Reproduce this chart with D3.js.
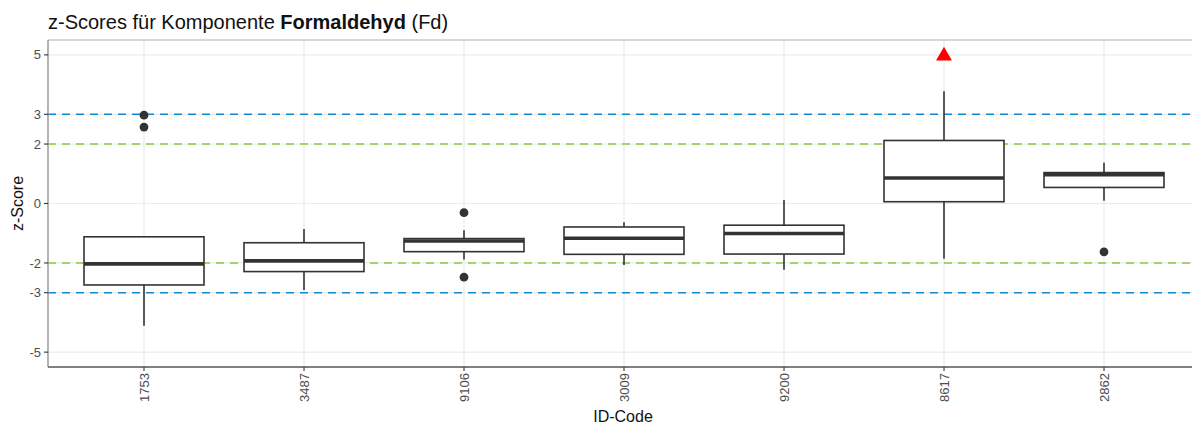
<!DOCTYPE html>
<html>
<head>
<meta charset="utf-8">
<script src="https://cdn.jsdelivr.net/npm/d3@7"></script>
<style>
  html, body { margin: 0; padding: 0; background: #fff; }
  svg { display: block; font-family: "Liberation Sans", Arial, sans-serif; }
</style>
</head>
<body>
<svg id="chart" width="1192" height="425"></svg>
<script>
// Laboratory codes (x categories)
const codes = ["1753", "3487", "9106", "3009", "9200", "8617", "2862"];
// Box statistics per code
const lowerWhisker = [-4.11, -2.91, -1.88, -2.07, -2.23, -1.86, 0.09];
const q1           = [-2.74, -2.29, -1.62, -1.71, -1.70, 0.06, 0.54];
const median       = [-2.03, -1.93, -1.26, -1.17, -1.01, 0.86, 0.97];
const q3           = [-1.12, -1.32, -1.18, -0.79, -0.73, 2.12, 1.04];
const upperWhisker = [-1.12, -0.86, -0.90, -0.63, 0.12, 3.78, 1.37];
// Outlying points: [code, z]
const outliers = [["1753", 2.97], ["1753", 2.57], ["9106", -0.31], ["9106", -2.48], ["2862", -1.63]];
// Values beyond the axis limit, shown as a capped marker
const capped = [["8617", 5]];
// Axis ticks and limit lines
const yTicks = [5, 3, 2, 0, -2, -3, -5];
const warnLimits = [2, -2];
const actionLimits = [3, -3];

const svg = d3.select("#chart");
const m = { left: 48, top: 40, plotW: 1152, plotH: 327 };

// Discrete x scale with 0.6 category widths of padding on each side
const x = d3.scalePoint().domain(codes)
  .range([m.left + m.plotW * 0.6 / 7.2, m.left + m.plotW * 6.6 / 7.2]);
const step = x.step();
const y = d3.scaleLinear().domain([-5.5, 5.5]).range([m.top + m.plotH, m.top]);

// Title
const title = svg.append("text").attr("x", 48).attr("y", 29).attr("font-size", 20).attr("fill", "#111");
title.append("tspan").text("z-Scores für Komponente ");
title.append("tspan").attr("font-weight", "bold").text("Formaldehyd");
title.append("tspan").text(" (Fd)");

const g = svg.append("g");

// Grid
g.selectAll(".hgrid").data(yTicks).join("line")
  .attr("x1", m.left).attr("x2", m.left + m.plotW)
  .attr("y1", d => y(d)).attr("y2", d => y(d))
  .attr("stroke", "#ebebeb").attr("stroke-width", 1.2);
g.selectAll(".vgrid").data(codes).join("line")
  .attr("x1", d => x(d)).attr("x2", d => x(d))
  .attr("y1", m.top).attr("y2", m.top + m.plotH)
  .attr("stroke", "#ebebeb").attr("stroke-width", 1.2);

// Limit lines
g.selectAll(".warn").data(warnLimits).join("line")
  .attr("x1", m.left).attr("x2", m.left + m.plotW)
  .attr("y1", d => y(d)).attr("y2", d => y(d))
  .attr("stroke", "#8dc63f").attr("stroke-width", 1.6).attr("stroke-dasharray", "8,6");
g.selectAll(".act").data(actionLimits).join("line")
  .attr("x1", m.left).attr("x2", m.left + m.plotW)
  .attr("y1", d => y(d)).attr("y2", d => y(d))
  .attr("stroke", "#0f8ad2").attr("stroke-width", 1.6).attr("stroke-dasharray", "8,6");

// Boxes
const boxW = step * 0.75;
const stroke = "#333";
codes.forEach((c, i) => {
  const cx = x(c);
  const bg = g.append("g");
  bg.append("line").attr("x1", cx).attr("x2", cx).attr("y1", y(upperWhisker[i])).attr("y2", y(q3[i]))
    .attr("stroke", stroke).attr("stroke-width", 1.6);
  bg.append("line").attr("x1", cx).attr("x2", cx).attr("y1", y(q1[i])).attr("y2", y(lowerWhisker[i]))
    .attr("stroke", stroke).attr("stroke-width", 1.6);
  bg.append("rect").attr("x", cx - boxW / 2).attr("width", boxW)
    .attr("y", y(q3[i])).attr("height", y(q1[i]) - y(q3[i]))
    .attr("fill", "#fff").attr("stroke", stroke).attr("stroke-width", 1.6);
  bg.append("line").attr("x1", cx - boxW / 2).attr("x2", cx + boxW / 2)
    .attr("y1", y(median[i])).attr("y2", y(median[i]))
    .attr("stroke", stroke).attr("stroke-width", 3.6);
});

// Outliers
g.selectAll(".out").data(outliers).join("circle")
  .attr("cx", d => x(d[0])).attr("cy", d => y(d[1])).attr("r", 4.4).attr("fill", "#333");

// Capped values
const tri = d3.symbol().type(d3.symbolTriangle).size(110);
g.selectAll(".cap").data(capped).join("path")
  .attr("d", tri).attr("transform", d => `translate(${x(d[0])},${y(d[1]) + 1})`).attr("fill", "#ff0000");

// Panel border (top) and axis lines
svg.append("line").attr("x1", m.left).attr("x2", m.left + m.plotW).attr("y1", m.top).attr("y2", m.top)
  .attr("stroke", "#b0b0b0").attr("stroke-width", 1.2);
svg.append("line").attr("x1", m.left).attr("x2", m.left).attr("y1", m.top).attr("y2", m.top + m.plotH)
  .attr("stroke", "#8a8a8a").attr("stroke-width", 1.3);
svg.append("line").attr("x1", m.left).attr("x2", m.left + m.plotW).attr("y1", m.top + m.plotH).attr("y2", m.top + m.plotH)
  .attr("stroke", "#808080").attr("stroke-width", 2);

// Y axis ticks and labels
const ya = svg.append("g");
yTicks.forEach(t => {
  ya.append("line").attr("x1", m.left - 4).attr("x2", m.left).attr("y1", y(t)).attr("y2", y(t))
    .attr("stroke", "#333").attr("stroke-width", 1.1);
  ya.append("text").attr("x", m.left - 7).attr("y", y(t)).attr("dy", "0.35em")
    .attr("text-anchor", "end").attr("font-size", 13).attr("fill", "#4d4d4d").text(t);
});

// X axis ticks and labels
const xa = svg.append("g");
codes.forEach(c => {
  const cx = x(c);
  xa.append("line").attr("x1", cx).attr("x2", cx).attr("y1", m.top + m.plotH).attr("y2", m.top + m.plotH + 4)
    .attr("stroke", "#333").attr("stroke-width", 1.1);
  xa.append("text").attr("transform", `translate(${cx},${m.top + m.plotH + 6}) rotate(-90)`)
    .attr("text-anchor", "end").attr("dy", "0.35em").attr("font-size", 13).attr("fill", "#4d4d4d").text(c);
});

// Axis titles
svg.append("text").attr("x", 623).attr("y", 422)
  .attr("text-anchor", "middle").attr("font-size", 16).attr("fill", "#111").text("ID-Code");
svg.append("text").attr("transform", `translate(23,${y(0)}) rotate(-90)`)
  .attr("text-anchor", "middle").attr("font-size", 16).attr("fill", "#111").text("z-Score");
</script>
</body>
</html>
